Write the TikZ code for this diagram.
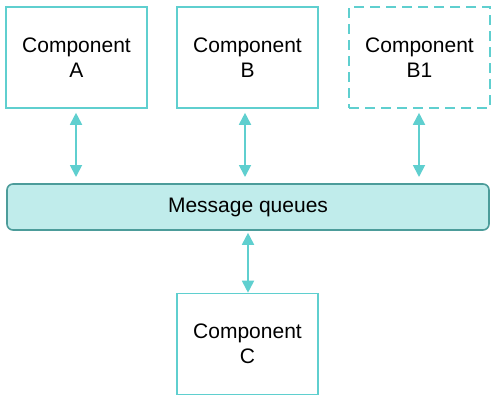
\documentclass[tikz,border=0pt]{standalone}
\usepackage{fontspec}
\setmainfont{Liberation Sans}
\usetikzlibrary{arrows.meta}
\definecolor{boxline}{HTML}{5FCFCF}
\definecolor{queuefill}{HTML}{C0ECEB}
\definecolor{queueline}{HTML}{4C9C9A}

\begin{document}
\begin{tikzpicture}[x = 1pt, y = -1pt,
  comp/.style = {draw = boxline, line width = 1.6pt, fill = white, minimum width = 141pt, minimum height = 101pt, align = center, font = \fontsize{21}{25}\selectfont, inner sep = 0pt},
  queue/.style = {draw = queueline, line width = 1.6pt, fill = queuefill, rounded corners = 6pt, minimum width = 482pt, minimum height = 46pt, font = \fontsize{21}{25}\selectfont, inner sep = 0pt},
  link/.style = {draw = boxline, line width = 1.8pt, {Triangle[width = 12pt, length = 12pt]}-{Triangle[width = 12pt, length = 12pt]}}]
\useasboundingbox (0,0) rectangle (497,400);
\node[comp] (compA) at (76.5, 57.5) {Component\\A};
\node[comp] (compB) at (247.5, 57.5) {Component\\B};
\node[comp, dashed, dash pattern = on 10pt off 6pt] (compB1) at (419.5, 57.5) {Component\\B1};
\node[queue] (mq) at (248, 207) {Message queues};
\node[comp] (compC) at (247.5, 344) {Component\\C};
% links to the queue
\coordinate (qA) at (76, 177);
\coordinate (qB) at (245, 177);
\coordinate (qB1) at (419, 177);
\draw[link] ([yshift = -4pt] compA.south -| qA) -- (qA);
\draw[link] ([yshift = -4pt] compB.south -| qB) -- (qB);
\draw[link] ([yshift = -4pt] compB1.south -| qB1) -- (qB1);
\draw[link] ([yshift = -2pt] mq.south) -- (mq.south |- compC.north);
\end{tikzpicture}
\end{document}
